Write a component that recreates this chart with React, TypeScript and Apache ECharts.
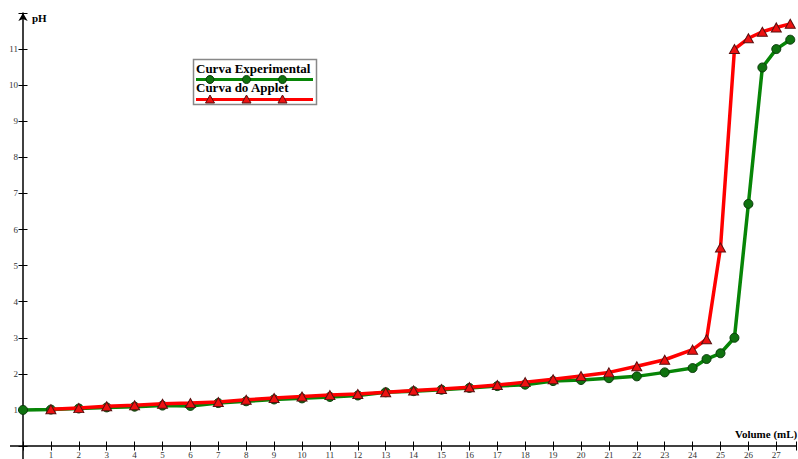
import React, { useEffect, useRef } from "react";
import * as echarts from "echarts";

// Volume (mL) and pH readings
const volumesExperimental = [0, 1, 2, 3, 4, 5, 6, 7, 8, 9, 10, 11, 12, 13, 14, 15, 16, 17, 18, 19, 20, 21, 22, 23, 24, 24.5, 25, 25.5, 26, 26.5, 27, 27.5];
const phExperimental = [1.0, 1.01, 1.04, 1.07, 1.09, 1.12, 1.11, 1.19, 1.24, 1.29, 1.32, 1.36, 1.4, 1.49, 1.52, 1.56, 1.61, 1.66, 1.7, 1.8, 1.83, 1.88, 1.93, 2.04, 2.16, 2.41, 2.57, 3.0, 6.71, 10.49, 11.0, 11.26];

const volumesApplet = [1, 2, 3, 4, 5, 6, 7, 8, 9, 10, 11, 12, 13, 14, 15, 16, 17, 18, 19, 20, 21, 22, 23, 24, 24.5, 25, 25.5, 26, 26.5, 27, 27.5];
const phApplet = [1.02, 1.05, 1.1, 1.13, 1.17, 1.19, 1.22, 1.28, 1.33, 1.37, 1.41, 1.44, 1.49, 1.54, 1.58, 1.63, 1.69, 1.77, 1.85, 1.94, 2.04, 2.21, 2.39, 2.67, 2.96, 5.5, 11.0, 11.3, 11.48, 11.6, 11.7];

const seriesNames = ["Curva Experimental", "Curva do Applet"];
const xLabelRange = [1, 27];
const yLabelRange = [1, 11];

const SERIF = '"Liberation Serif", "Times New Roman", serif';
const GREEN_LINE = "#078507";
const GREEN_MARK = "#0f720f";
const RED_LINE = "#ff0000";
const RED_MARK = "#ee1111";

export default function App() {
  const ref = useRef<HTMLDivElement>(null);

  useEffect(() => {
    const chart = echarts.init(ref.current!, null, { renderer: "svg" });
    const xFmt = (v: number) =>
      Number.isInteger(v) && v >= xLabelRange[0] && v <= xLabelRange[1] ? String(v) : "";
    const yFmt = (v: number) =>
      Number.isInteger(v) && v >= yLabelRange[0] && v <= yLabelRange[1] ? String(v) : "";
    const axisLineStyle = { color: "#000", width: 1.5 };
    const tickStyle = { color: "#000", width: 1 };
    const labelStyle = { fontFamily: SERIF, fontSize: 9, color: "#333" };

    const legendX = [210, 246.5, 282.5];

    chart.setOption({
      animation: false,
      backgroundColor: "#fff",
      grid: {
        left: 23,
        top: 13,
        width: 27.7 * 27.9,
        height: 433,
        containLabel: false,
        outerBoundsMode: "none",
      },
      xAxis: [
        {
          type: "value",
          min: 0,
          max: 27.7,
          interval: 1,
          position: "bottom",
          axisLine: { onZero: true, onZeroAxisIndex: 0, lineStyle: axisLineStyle },
          axisTick: { length: 4.5, lineStyle: tickStyle },
          axisLabel: { ...labelStyle, margin: 4, formatter: xFmt },
          splitLine: { show: false },
        },
        {
          type: "value",
          min: 0,
          max: 27.7,
          interval: 1,
          position: "top",
          axisLine: { show: false, onZero: true, onZeroAxisIndex: 0 },
          axisTick: { length: 4.5, lineStyle: tickStyle },
          axisLabel: { show: false },
          splitLine: { show: false },
        },
      ],
      yAxis: [
        {
          type: "value",
          min: 0,
          max: 12,
          interval: 1,
          position: "left",
          axisLine: {
            onZero: true,
            onZeroAxisIndex: 0,
            lineStyle: axisLineStyle,
            symbol: ["none", "arrow"],
            symbolSize: [7, 8],
          },
          axisTick: { length: 4.5, lineStyle: tickStyle },
          axisLabel: { ...labelStyle, margin: 5, formatter: yFmt },
          splitLine: { show: false },
        },
        {
          type: "value",
          min: 0,
          max: 12,
          interval: 1,
          position: "right",
          axisLine: { show: false, onZero: true, onZeroAxisIndex: 0 },
          axisTick: { length: 4.5, lineStyle: tickStyle },
          axisLabel: { show: false },
          splitLine: { show: false },
        },
      ],
      series: [
        {
          type: "line",
          name: seriesNames[0],
          xAxisIndex: 0,
          yAxisIndex: 0,
          data: volumesExperimental.map((v, i) => [v, phExperimental[i]]),
          symbol: "circle",
          symbolSize: 9,
          showAllSymbol: true,
          lineStyle: { color: GREEN_LINE, width: 3.5 },
          itemStyle: { color: GREEN_MARK, borderColor: "#0a3a0a", borderWidth: 1 },
          z: 2,
        },
        {
          type: "line",
          name: seriesNames[1],
          xAxisIndex: 0,
          yAxisIndex: 0,
          data: volumesApplet.map((v, i) => [v, phApplet[i]]),
          symbol: "triangle",
          symbolSize: [10, 9],
          showAllSymbol: true,
          lineStyle: { color: RED_LINE, width: 3.5 },
          itemStyle: { color: RED_MARK, borderColor: "#5a1010", borderWidth: 1 },
          z: 3,
        },
      ],
      graphic: [
        {
          type: "line",
          shape: { x1: 10, y1: 446, x2: 23, y2: 446 },
          style: { stroke: "#000", lineWidth: 1.5 },
        },
        {
          type: "line",
          shape: { x1: 23, y1: 446, x2: 23, y2: 459 },
          style: { stroke: "#000", lineWidth: 1.5 },
        },
        {
          type: "text",
          x: 32,
          y: 12,
          style: { text: "pH", font: `bold 11px ${SERIF}`, fill: "#000", align: "left", verticalAlign: "top" },
        },
        {
          type: "text",
          x: 735,
          y: 428,
          style: { text: "Volume (mL)", font: `bold 11px ${SERIF}`, fill: "#000", align: "left", verticalAlign: "top" },
        },
        {
          type: "rect",
          shape: { x: 193.5, y: 59.5, width: 123, height: 45 },
          style: { fill: "#fff", stroke: "#888", lineWidth: 1.5 },
          z: 10,
        },
        {
          type: "text",
          x: 196,
          y: 62,
          z: 11,
          style: { text: seriesNames[0], font: `bold 13px ${SERIF}`, fill: "#000", align: "left", verticalAlign: "top" },
        },
        {
          type: "line",
          z: 11,
          shape: { x1: 196, y1: 79.5, x2: 313, y2: 79.5 },
          style: { stroke: GREEN_LINE, lineWidth: 3 },
        },
        ...legendX.map((x) => ({
          type: "circle",
          z: 12,
          shape: { cx: x, cy: 79.5, r: 4 },
          style: { fill: GREEN_MARK, stroke: "#0a3a0a", lineWidth: 1 },
        })),
        {
          type: "text",
          x: 196,
          y: 80.5,
          z: 11,
          style: { text: seriesNames[1], font: `bold 13px ${SERIF}`, fill: "#000", align: "left", verticalAlign: "top" },
        },
        {
          type: "line",
          z: 11,
          shape: { x1: 196, y1: 99.5, x2: 313, y2: 99.5 },
          style: { stroke: RED_LINE, lineWidth: 3 },
        },
        ...legendX.map((x) => ({
          type: "polygon",
          z: 12,
          shape: { points: [[x, 95], [x - 4.5, 103], [x + 4.5, 103]] },
          style: { fill: RED_MARK, stroke: "#5a1010", lineWidth: 1 },
        })),
      ],
    });
    return () => chart.dispose();
  }, []);

  return (
    <div
      ref={ref}
      style={{ position: "fixed", left: 0, top: 0, width: 798, height: 459, background: "#fff" }}
    />
  );
}
